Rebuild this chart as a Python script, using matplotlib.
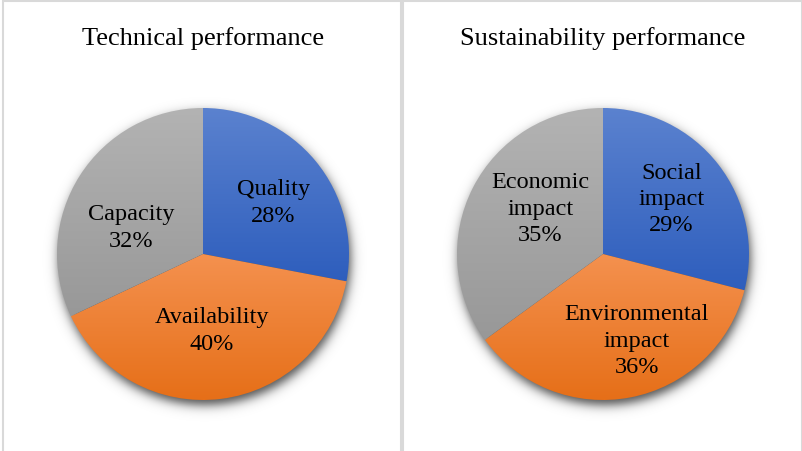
import numpy as np
import matplotlib
matplotlib.use("Agg")
import matplotlib.pyplot as plt
from matplotlib.patches import Rectangle

# ---- data ----
tech_titles = "Technical performance"
tech_labels = ["Quality", "Availability", "Capacity"]
tech_values = [28, 40, 32]

sust_title = "Sustainability performance"
sust_labels = ["Social impact", "Environmental impact", "Economic impact"]
sust_values = [29, 36, 35]

# ---- style ----
W, H = 803, 452
R_PX = 146.0
SERIF = ["Liberation Serif", "DejaVu Serif"]
# (top colour, bottom colour) for each slice gradient
GRADIENTS = [("#5b82cf", "#2e5ebd"),
             ("#f4914f", "#e66f18"),
             ("#b3b3b3", "#989898")]

fig = plt.figure(figsize=(W / 100, H / 100), dpi=100)
fig.patch.set_facecolor("white")


def px_axes(x0, x1, y0, y1):
    """Axes placed in pixel coordinates (y measured from top)."""
    return fig.add_axes([x0 / W, 1 - y1 / H, (x1 - x0) / W, (y1 - y0) / H])


def hex2rgb(h):
    h = h.lstrip("#")
    return np.array([int(h[i:i + 2], 16) / 255 for i in (0, 2, 4)])


def draw_panel(x0, x1, cx, cy, title, labels, values, label_pos):
    # panel frame
    fig.patches.append(Rectangle((x0 / W, -0.05), (x1 - x0) / W, (H - 1.5) / H + 0.05,
                                 transform=fig.transFigure, fill=False,
                                 edgecolor="#d9d9d9", linewidth=1.5))
    ax = px_axes(x0, x1, 0, H)
    xlim = ((x0 - cx) / R_PX, (x1 - cx) / R_PX)
    ylim = ((cy - H) / R_PX, cy / R_PX)

    # soft drop shadow under the pie
    gx = np.linspace(-1.3, 1.3, 400)
    gy = np.linspace(-1.3, 1.3, 400)
    XX, YY = np.meshgrid(gx, gy)
    d = np.hypot(XX - 0.012, YY + 0.035)
    alpha = 0.7 / (1 + np.exp((d - 1.0) / 0.022))
    shadow = np.zeros((400, 400, 4))
    shadow[..., 3] = alpha
    ax.imshow(shadow, extent=(-1.3, 1.3, -1.3, 1.3), origin="lower",
              interpolation="bilinear", zorder=0)

    wedges, _ = ax.pie(values, startangle=90, counterclock=False, radius=1,
                       center=(0, 0), wedgeprops=dict(linewidth=0))
    for w, (ctop, cbot) in zip(wedges, GRADIENTS):
        w.set_facecolor("none")
        w.set_zorder(2)
        ext = w.get_path().get_extents()
        n = 256
        t = np.linspace(0, 1, n)[:, None]
        grad = (1 - t) * hex2rgb(ctop) + t * hex2rgb(cbot)
        img = ax.imshow(grad[:, None, :], extent=(ext.x0, ext.x1, ext.y0, ext.y1),
                        origin="upper", aspect="auto", interpolation="bilinear",
                        zorder=1)
        img.set_clip_path(w)

    for lab, val, (lx, ly) in zip(labels, values, label_pos):
        ax.text(lx, ly, f"{lab.replace(' ', chr(10))}\n{val}%", ha="center",
                va="center", fontsize=17.5, family=SERIF, color="black",
                linespacing=1.34, zorder=3)

    ax.set_xlim(*xlim)
    ax.set_ylim(*ylim)
    ax.set_aspect("auto")
    ax.axis("off")

    fig.text(cx / W, 1 - 39 / H, title, ha="center", va="center",
             fontsize=19, family=SERIF, color="black")


draw_panel(3, 401, 203, 255, tech_titles, tech_labels, tech_values,
           [(0.48, 0.355), (0.06, -0.52), (-0.49, 0.185)])
draw_panel(403.5, 802, 603, 255, sust_title, sust_labels, sust_values,
           [(0.47, 0.38), (0.23, -0.59), (-0.43, 0.315)])

fig.savefig("out.png", dpi=100, facecolor="white")
